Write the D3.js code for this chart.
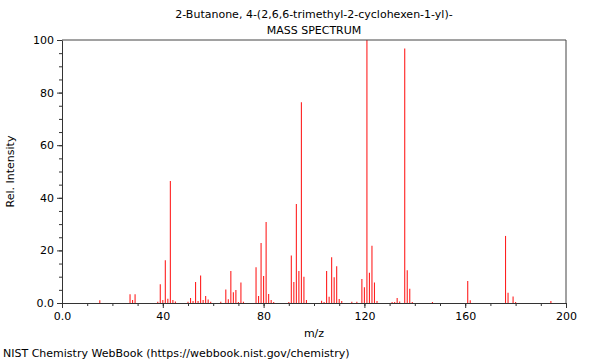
<!DOCTYPE html>
<html>
<head>
<meta charset="utf-8">
<script src="https://cdn.jsdelivr.net/npm/d3@7"></script>
<style>
  body { margin: 0; background: #fff; }
  text { font-family: "DejaVu Sans", sans-serif; }
</style>
</head>
<body>
<svg id="chart" width="600" height="360"></svg>
<script>
const titleLines = ["2-Butanone, 4-(2,6,6-trimethyl-2-cyclohexen-1-yl)-", "MASS SPECTRUM"];
const xLabel = "m/z";
const yLabel = "Rel. Intensity";
const footer = "NIST Chemistry WebBook (https://webbook.nist.gov/chemistry)";
const xTicks = [0, 40, 80, 120, 160, 200];
const yTicks = [0, 20, 40, 60, 80, 100];
const mz = [15, 27, 28, 29, 38, 39, 40, 41, 42, 43, 44, 45,
  50, 51, 52, 53, 54, 55, 56, 57, 58, 59,
  63, 65, 66, 67, 68, 69, 70, 71, 72,
  77, 78, 79, 80, 81, 82, 83, 84,
  90, 91, 92, 93, 94, 95, 96, 97,
  103, 104, 105, 106, 107, 108, 109, 110, 111,
  115, 117, 119, 120, 121, 122, 123, 124, 125,
  131, 132, 133, 134, 136, 137, 138, 139,
  147, 161, 162, 176, 177, 179, 180, 194];
const intensity = [1.0, 3.3, 1.1, 3.3, 0.5, 7.1, 1.1, 16.3, 1.6, 46.4, 1.1, 0.6,
  0.5, 1.9, 0.8, 8.0, 0.8, 10.5, 1.1, 2.7, 1.3, 0.5,
  0.5, 5.1, 1.4, 12.2, 4.1, 4.9, 0.4, 7.8, 0.5,
  13.6, 2.7, 22.8, 10.3, 30.8, 3.4, 1.1, 0.4,
  0.4, 18.1, 8.0, 37.6, 12.2, 76.3, 10.0, 1.1,
  0.9, 0.4, 12.2, 2.4, 17.4, 9.8, 14.0, 1.5, 0.8,
  0.5, 0.5, 9.1, 6.0, 100, 11.5, 21.8, 7.8, 0.8,
  0.4, 0.4, 1.9, 0.6, 96.8, 12.5, 5.4, 0.4,
  0.4, 8.4, 1.0, 25.5, 3.9, 2.5, 0.4, 0.8];

const svg = d3.select("#chart");
const L = 62, R = 566, T = 40, B = 303;
const x = d3.scaleLinear().domain([0, 200]).range([L, R]);
const y = d3.scaleLinear().domain([0, 100]).range([B, T]);
const fmt = d => d === 0 ? "0.0" : String(d);
const axisColor = "#333";

// bars
svg.append("g").selectAll("line").data(mz).join("line")
  .attr("x1", d => x(d)).attr("x2", d => x(d))
  .attr("y1", y(0)).attr("y2", (d, i) => y(intensity[i]))
  .attr("stroke", "#ff2020").attr("stroke-width", 1.1);

// frame (top and right)
svg.append("path")
  .attr("d", `M${L},${T}H${R}V${B}`)
  .attr("fill", "none").attr("stroke", "#444").attr("stroke-width", 1);

// minor ticks
svg.append("g").attr("transform", `translate(0,${B})`)
  .call(d3.axisBottom(x).tickValues(d3.range(0, 201, 10)).tickSize(3).tickFormat(""))
  .call(g => g.select(".domain").remove())
  .call(g => g.selectAll("line").attr("stroke", axisColor));
svg.append("g").attr("transform", `translate(${L},0)`)
  .call(d3.axisLeft(y).tickValues(d3.range(0, 101, 5)).tickSize(3).tickFormat(""))
  .call(g => g.select(".domain").remove())
  .call(g => g.selectAll("line").attr("stroke", axisColor));

// major axes
const xa = svg.append("g").attr("transform", `translate(0,${B})`)
  .call(d3.axisBottom(x).tickValues(xTicks).tickSize(5).tickSizeOuter(0).tickFormat(fmt).tickPadding(4));
const ya = svg.append("g").attr("transform", `translate(${L},0)`)
  .call(d3.axisLeft(y).tickValues(yTicks).tickSize(5).tickSizeOuter(0).tickFormat(fmt).tickPadding(3));
[xa, ya].forEach(g => {
  g.selectAll("path, line").attr("stroke", axisColor);
  g.selectAll("text").attr("font-size", 11).attr("fill", "#000")
    .attr("font-family", "DejaVu Sans, sans-serif");
});

// titles
svg.append("g").selectAll("text").data(titleLines).join("text")
  .attr("x", 314).attr("y", (d, i) => 18 + i * 16)
  .attr("text-anchor", "middle").attr("font-size", 11).text(d => d);
svg.append("text").attr("x", 314).attr("y", 337)
  .attr("text-anchor", "middle").attr("font-size", 11).text(xLabel);
svg.append("text").attr("transform", `translate(14,${(T + B) / 2}) rotate(-90)`)
  .attr("text-anchor", "middle").attr("font-size", 11).text(yLabel);
svg.append("text").attr("x", 3).attr("y", 357)
  .attr("font-size", 11).text(footer);
</script>
</body>
</html>
